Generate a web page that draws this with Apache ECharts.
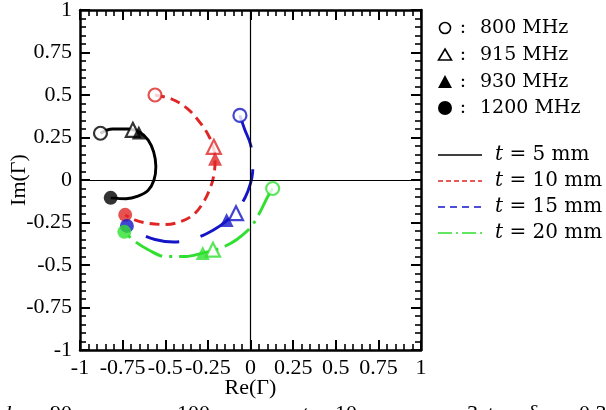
<!DOCTYPE html>
<html><head><meta charset="utf-8">
<script src="https://cdn.jsdelivr.net/npm/echarts@6/dist/echarts.min.js"></script>
<style>html,body{margin:0;padding:0;background:#fff}#c{width:606px;height:410px}</style>
</head><body><div id="c"></div>
<script>
// ---- data ----
const tickValues = [-1, -0.75, -0.5, -0.25, 0, 0.25, 0.5, 0.75, 1];
const tickLabels = ['-1', '-0.75', '-0.5', '-0.25', '0', '0.25', '0.5', '0.75', '1'];
const thicknessLabels = ['5 mm', '10 mm', '15 mm', '20 mm'];
const frequencyLabels = ['800 MHz', '915 MHz', '930 MHz', '1200 MHz'];

// Γ traces (Re, Im) from 800 MHz to 1200 MHz
const curveT5 = [[-0.88,0.275],[-0.81,0.30],[-0.72,0.30],[-0.65,0.28],[-0.60,0.235],[-0.568,0.165],[-0.555,0.08],[-0.566,0.0],[-0.60,-0.06],[-0.66,-0.095],[-0.73,-0.11],[-0.82,-0.105]];
const curveT10 = [[-0.56,0.50],[-0.46,0.475],[-0.37,0.42],[-0.29,0.33],[-0.24,0.25],[-0.215,0.18],[-0.208,0.10],[-0.215,0.03],[-0.23,-0.03],[-0.27,-0.12],[-0.33,-0.20],[-0.41,-0.245],[-0.50,-0.262],[-0.60,-0.255],[-0.68,-0.235],[-0.735,-0.205]];
const curveT15 = [[-0.062,0.38],[-0.035,0.30],[0.0,0.21],[0.014,0.12],[0.012,0.04],[0.0,-0.02],[-0.03,-0.10],[-0.08,-0.18],[-0.14,-0.24],[-0.22,-0.295],[-0.33,-0.345],[-0.45,-0.365],[-0.56,-0.35],[-0.65,-0.315],[-0.725,-0.27]];
const curveT20 = [[0.13,-0.05],[0.10,-0.10],[0.05,-0.20],[0.0,-0.28],[-0.08,-0.35],[-0.15,-0.39],[-0.22,-0.415],[-0.28,-0.43],[-0.38,-0.45],[-0.50,-0.45],[-0.60,-0.41],[-0.68,-0.36],[-0.74,-0.305]];

// marked frequencies: 800, 915, 930, 1200 MHz
const pointsT5 = [[-0.88,0.275],[-0.69,0.295],[-0.655,0.28],[-0.82,-0.105]];
const pointsT10 = [[-0.56,0.50],[-0.215,0.195],[-0.208,0.125],[-0.735,-0.205]];
const pointsT15 = [[-0.062,0.38],[-0.085,-0.195],[-0.14,-0.235],[-0.725,-0.27]];
const pointsT20 = [[0.13,-0.05],[-0.22,-0.41],[-0.28,-0.43],[-0.74,-0.305]];

// ---- styles ----
const colors = ['#000000', '#e02525', '#1515c8', '#30e030'];
const dashes = ['solid', [10, 6], [34, 22], [30, 7, 3, 7]];
const curves = [curveT5, curveT10, curveT15, curveT20];
const points = [pointsT5, pointsT10, pointsT15, pointsT20];
const serif = 'Liberation Serif';
const legendFont = 'DejaVu Serif';

function fmt(v) {
  const i = tickValues.findIndex(t => Math.abs(t - v) < 1e-9);
  return i >= 0 ? tickLabels[i] : '';
}

function axisCommon(pos, showLabel) {
  return {
    type: 'value', min: -1, max: 1, interval: 0.25, position: pos,
    axisLine: { show: true, onZero: false, lineStyle: { color: '#000', width: 2.5 } },
    axisTick: { show: true, inside: true, length: 10, lineStyle: { color: '#000', width: 2 } },
    minorTick: { show: true, splitNumber: 5, length: 6, lineStyle: { color: '#000', width: 1.6 } },
    splitLine: { show: false }, minorSplitLine: { show: false },
    axisLabel: { show: showLabel, formatter: fmt, fontFamily: serif, fontSize: 22, color: '#000', hideOverlap: false, showMinLabel: true, showMaxLabel: true }
  };
}

const xBottom = axisCommon('bottom', true);
xBottom.axisLabel.margin = 7;
xBottom.name = 'Re(Γ)'; xBottom.nameLocation = 'middle'; xBottom.nameGap = 27; xBottom.nameMoveOverlap = false;
xBottom.nameTextStyle = { fontFamily: serif, fontSize: 22, color: '#000' };
const xTop = axisCommon('top', false);
const yLeft = axisCommon('left', true);
yLeft.axisLabel.margin = 8;
yLeft.name = 'Im(Γ)'; yLeft.nameLocation = 'middle'; yLeft.nameGap = 50; yLeft.nameMoveOverlap = false;
yLeft.nameTextStyle = { fontFamily: serif, fontSize: 22, color: '#000' };
const yRight = axisCommon('right', false);

const series = [];
curves.forEach((c, i) => {
  const s = {
    type: 'line', data: c, smooth: 0.35, showSymbol: false, silent: true,
    lineStyle: { color: colors[i], width: 2.9, type: dashes[i] },
    z: 3
  };
  if (i === 0) {
    s.markLine = {
      silent: true, symbol: 'none', label: { show: false },
      lineStyle: { color: '#000', width: 1.2, type: 'solid' },
      data: [{ xAxis: 0 }, { yAxis: 0 }]
    };
  }
  series.push(s);
});
points.forEach((p, i) => {
  const c = colors[i];
  series.push({
    type: 'scatter', silent: true, z: 5 + i,
    data: [
      { value: p[0], symbol: 'circle', symbolSize: 13, itemStyle: { color: '#fff', borderColor: c, borderWidth: 2.2 } },
      { value: p[1], symbol: 'triangle', symbolSize: 14, itemStyle: { color: '#fff', borderColor: c, borderWidth: 2.2 } },
      { value: p[2], symbol: 'triangle', symbolSize: 14, itemStyle: { color: c } },
      { value: p[3], symbol: 'circle', symbolSize: 14, itemStyle: { color: c } }
    ]
  });
});

// ---- legend (graphic) ----
const g = [];
const fy = [28, 55, 82, 108];
const sx = 445;
g.push({ type: 'circle', shape: { cx: sx, cy: fy[0], r: 5.5 }, style: { fill: '#fff', stroke: '#000', lineWidth: 1.6 } });
g.push({ type: 'polygon', shape: { points: [[sx, fy[1] - 6], [sx + 6.5, fy[1] + 5], [sx - 6.5, fy[1] + 5]] }, style: { fill: '#fff', stroke: '#000', lineWidth: 1.6 } });
g.push({ type: 'polygon', shape: { points: [[sx, fy[2] - 7], [sx + 7, fy[2] + 6], [sx - 7, fy[2] + 6]] }, style: { fill: '#000' } });
g.push({ type: 'circle', shape: { cx: sx, cy: fy[3], r: 7 }, style: { fill: '#000' } });
frequencyLabels.forEach((t, i) => {
  g.push({ type: 'text', style: { text: ':', x: 463, y: fy[i], textAlign: 'center', textVerticalAlign: 'middle', font: '19px "' + legendFont + '"', fill: '#000' } });
  g.push({ type: 'text', style: { text: t, x: 480, y: fy[i], textAlign: 'left', textVerticalAlign: 'middle', font: '19px "' + legendFont + '"', fill: '#000' } });
});
const ty = [155, 181, 207, 233];
const legDash = [null, [5, 3], [7, 5], [14, 4, 2, 4]];
thicknessLabels.forEach((t, i) => {
  g.push({ type: 'line', shape: { x1: 438, y1: ty[i], x2: 482, y2: ty[i] }, style: { stroke: colors[i], lineWidth: 1.6, lineDash: legDash[i] } });
  g.push({ type: 'text', style: {
    text: '{i|t} = ' + t, x: 495, y: ty[i], textAlign: 'left', textVerticalAlign: 'middle',
    font: '20px "' + legendFont + '"', fill: '#000',
    rich: { i: { fontStyle: 'italic', fontFamily: legendFont, fontSize: 20 } }
  } });
});

// bottom caption (cut off at image edge)
const capY = 403;
const cap = [
  ['d', 0, true], ['=', 26, false], ['90 mm,', 50, false],
  ['w', 125, true], ['=', 152, false], ['100 mm,', 177, false],
  ['t', 302, true], ['=', 314, false], ['10 mm,', 335, false],
  ['ε', 415, true], ['=', 442, false], ['3,', 467, false],
  ['tan', 488, false], ['δ', 527, true], ['=', 552, false], ['0.3', 579, false]
];
cap.forEach(c => {
  g.push({ type: 'text', style: { text: c[0], x: c[1], y: capY, textAlign: 'left', textVerticalAlign: 'top',
    font: (c[2] ? 'italic ' : '') + '22px "' + serif + '"', fill: '#000' } });
});

const chart = echarts.init(document.getElementById('c'), null, { renderer: 'canvas' });
chart.setOption({
  animation: false,
  backgroundColor: '#fff',
  grid: { left: 80, right: 185, top: 10, bottom: 60, containLabel: false, outerBoundsMode: 'none' },
  xAxis: [xBottom, xTop],
  yAxis: [yLeft, yRight],
  series: series,
  graphic: g
});
</script>
</body></html>
